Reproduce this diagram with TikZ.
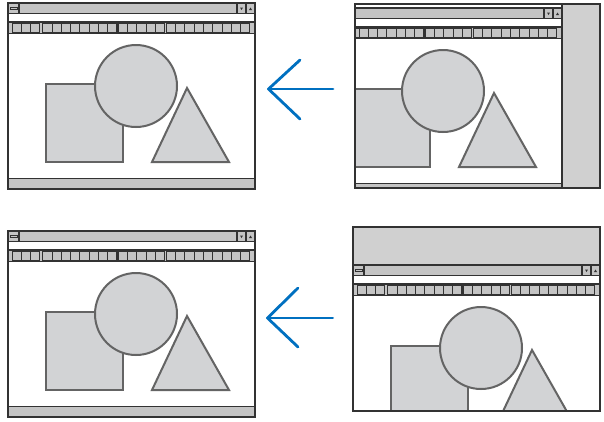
\documentclass[tikz,border=0pt]{standalone}
\begin{document}
\definecolor{chrome}{RGB}{196,196,196}
\definecolor{grayregion}{RGB}{208,208,208}
\definecolor{shapefill}{RGB}{210,211,213}
\definecolor{shapeline}{RGB}{100,100,100}
\definecolor{frameline}{RGB}{50,50,50}
\definecolor{arrowblue}{RGB}{0,112,192}
\tikzset{
 chromebox/.style={fill=chrome, draw=frameline, line width=1.1},
 btn/.style={fill=chrome, draw=frameline, line width=0.7},
 shapeobj/.style={fill=shapefill, draw=shapeline, line width=2},
 framebox/.style={draw=frameline, line width=1.2},
 arrowline/.style={draw=arrowblue, line width=2.8, line cap=round, line join=round},
}
\newcommand\drawwin{%
 \fill[white] (0,0) rectangle (247,186);
 \draw[shapeobj] (38,81) rectangle (115,159);
 \draw[shapeobj] (128,83) circle[radius=41];
 \draw[shapeobj] (179,85) -- (221,159) -- (144,159) -- cycle;
 \draw[chromebox] (0,0) rectangle (247,10.5);
 \draw[chromebox] (0,0) rectangle (11,10.5);
 \draw[fill=chrome, draw=frameline, line width=0.6] (2,4) rectangle (9,6.5);
 \draw[chromebox] (229,0) rectangle (238,10.5);
 \draw[chromebox] (238,0) rectangle (247,10.5);
 \fill[frameline] (232,4.5) -- (235,4.5) -- (233.5,7) -- cycle;
 \fill[frameline] (241,7) -- (244,7) -- (242.5,4.5) -- cycle;
 \draw[chromebox] (0,19) rectangle (247,30.3);
 \foreach \gx/\gn in {4/3, 34.7/8, 110.3/5, 158.3/9} {
   \foreach \k in {1,...,\gn} {
     \draw[btn] ({\gx+(\k-1)*9.27},20.3) rectangle ({\gx+\k*9.27},29.3);
   }
   \draw[draw=frameline, line width=1] (\gx,20.3) rectangle ({\gx+\gn*9.27},29.3);
 }
 \draw[chromebox] (0,175.3) rectangle (247,186);
 \draw[framebox] (0,0) rectangle (247,186);
}
\begin{tikzpicture}[x=1pt,y=-1pt]
\useasboundingbox (0,0) rectangle (604,421);
% top-left
\begin{scope}[shift={(8,3)}] \drawwin \end{scope}
% top-right
\begin{scope}
 \clip (355,4) rectangle (600,188);
 \begin{scope}[shift={(315,8)}] \drawwin \end{scope}
\end{scope}
\draw[framebox, fill=grayregion] (562,4) rectangle (600,188);
\draw[framebox] (355,4) rectangle (600,188);
% bottom-left
\begin{scope}[shift={(8,231)}] \drawwin \end{scope}
% bottom-right
\begin{scope}
 \clip (353,227) rectangle (600,411);
 \begin{scope}[shift={(353,265)}] \drawwin \end{scope}
\end{scope}
\draw[framebox, fill=grayregion] (353,227) rectangle (600,265);
\draw[framebox] (353,227) rectangle (600,411);
% arrows
\coordinate (a1s) at (333,89);
\coordinate (a1t) at (268.5,89);
\coordinate (a1u) at (300,60);
\coordinate (a1d) at (300,119);
\draw[arrowline] (a1s) -- (a1t);
\draw[arrowline] (a1u) -- (a1t) -- (a1d);
\coordinate (a2s) at (332.7,318);
\coordinate (a2t) at (267.5,318);
\coordinate (a2u) at (298,288);
\coordinate (a2d) at (298,347);
\draw[arrowline] (a2s) -- (a2t);
\draw[arrowline] (a2u) -- (a2t) -- (a2d);
\end{tikzpicture}
\end{document}
